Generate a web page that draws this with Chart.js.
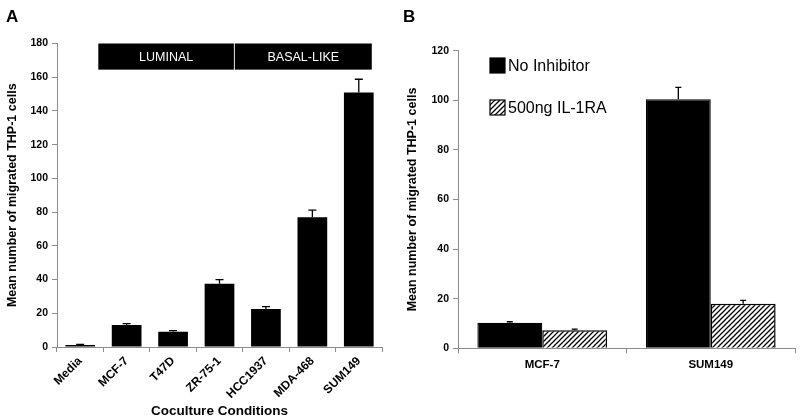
<!DOCTYPE html>
<html>
<head>
<meta charset="utf-8">
<script src="https://cdn.jsdelivr.net/npm/chart.js@4/dist/chart.umd.min.js"></script>
<style>
  html, body { margin: 0; padding: 0; background: #fff; }
  #wrap { position: relative; width: 800px; height: 420px; overflow: hidden; }
  .panel { position: absolute; top: 0; width: 400px; height: 420px; }
  .letter { position: absolute; font: bold 17px "Liberation Sans", Arial, sans-serif; line-height: 1; color: #000; }
</style>
</head>
<body>
<div id="wrap">
  <div class="panel" style="left:0"><canvas id="chartA" width="400" height="420"></canvas></div>
  <div class="panel" style="left:400px"><canvas id="chartB" width="400" height="420"></canvas></div>
  <div class="letter" style="left:6px;top:8px">A</div>
  <div class="letter" style="left:403px;top:8px">B</div>
</div>
<script>
// ---------------- DATA ----------------
const categoriesA = ['Media', 'MCF-7', 'T47D', 'ZR-75-1', 'HCC1937', 'MDA-468', 'SUM149'];
const meansA = [1.2, 13, 9, 37.5, 22.5, 77, 151];
const errorsA = [0.3, 0.9, 0.7, 2.5, 1.5, 4.2, 7.8];
const groupLabelsA = ['LUMINAL', 'BASAL-LIKE'];
const yTicksA = { min: 0, max: 180, step: 20 };

const categoriesB = ['MCF-7', 'SUM149'];
const noInhibitor = [10.3, 100.4];
const noInhibitorErr = [0.4, 4.8];
const il1ra = [7.3, 18];
const il1raErr = [0.4, 1.3];
const seriesNamesB = ['No Inhibitor', '500ng IL-1RA'];
const yTicksB = { min: 0, max: 120, step: 20 };

const yTitle = 'Mean number of migrated THP-1 cells';
const xTitleA = 'Coculture Conditions';

// ---------------- STYLE ----------------
const FONT = '"Liberation Sans", Arial, sans-serif';
const AXIS_COLOR = '#8c8c8c';
Chart.defaults.font.family = FONT;
Chart.defaults.color = '#000';
Chart.defaults.animation = false;

function makeHatch() {
  const s = 5;
  const c = document.createElement('canvas');
  c.width = s; c.height = s;
  const g = c.getContext('2d');
  g.fillStyle = '#fff'; g.fillRect(0, 0, s, s);
  g.strokeStyle = '#000'; g.lineWidth = 1.3;
  g.beginPath();
  g.moveTo(-1, s + 1); g.lineTo(s + 1, -1);
  g.moveTo(-1, 1); g.lineTo(1, -1);
  g.moveTo(s - 1, s + 1); g.lineTo(s + 1, s - 1);
  g.stroke();
  return document.getElementById('chartB').getContext('2d').createPattern(c, 'repeat');
}
const hatch = makeHatch();

// error bars (upper half only, like the reference)
const errorBarPlugin = {
  id: 'errorBars',
  afterDatasetsDraw(chart, args, opts) {
    const ctx = chart.ctx;
    const y = chart.scales.y;
    ctx.save();
    ctx.strokeStyle = '#000';
    ctx.lineWidth = 1.3;
    chart.data.datasets.forEach((ds, di) => {
      if (!ds.errors) return;
      const meta = chart.getDatasetMeta(di);
      meta.data.forEach((bar, i) => {
        const v = ds.data[i], e = ds.errors[i];
        const top = y.getPixelForValue(v + e);
        const base = y.getPixelForValue(v);
        const x = bar.x;
        ctx.beginPath();
        ctx.moveTo(x, base); ctx.lineTo(x, top);
        ctx.moveTo(x - opts.cap, top); ctx.lineTo(x + opts.cap, top);
        ctx.stroke();
      });
    });
    ctx.restore();
  }
};

// group header boxes for panel A
const groupHeaderPlugin = {
  id: 'groupHeader',
  afterDraw(chart, args, opts) {
    const ctx = chart.ctx;
    const area = chart.chartArea;
    const y = chart.scales.y;
    const n = chart.data.labels.length;
    const cw = (area.right - area.left) / n;
    ctx.save();
    opts.groups.forEach(g => {
      const x0 = area.left + g.from * cw;
      const x1 = area.left + g.to * cw;
      const y0 = y.getPixelForValue(opts.top);
      const y1 = y.getPixelForValue(opts.bottom);
      ctx.fillStyle = '#000';
      ctx.fillRect(x0, y0, x1 - x0, y1 - y0);
      ctx.fillStyle = '#fff';
      ctx.font = '12.5px ' + FONT;
      ctx.textAlign = 'center';
      ctx.textBaseline = 'middle';
      ctx.fillText(g.label, (x0 + x1) / 2, (y0 + y1) / 2 + 1);
    });
    ctx.restore();
  }
};

// in-plot legend for panel B
const boxLegendPlugin = {
  id: 'boxLegend',
  afterDraw(chart, args, opts) {
    const ctx = chart.ctx;
    ctx.save();
    chart.data.datasets.forEach((ds, i) => {
      const bx = opts.x, by = opts.y + i * opts.gap;
      ctx.fillStyle = ds.backgroundColor;
      ctx.fillRect(bx, by, opts.size, opts.size);
      ctx.strokeStyle = '#000';
      ctx.lineWidth = 1.2;
      ctx.strokeRect(bx, by, opts.size, opts.size);
      ctx.fillStyle = '#000';
      ctx.font = '16px ' + FONT;
      ctx.textAlign = 'left';
      ctx.textBaseline = 'middle';
      ctx.fillText(ds.label, bx + opts.size + 3, by + opts.size / 2 + 1);
    });
    ctx.restore();
  }
};

function fixedLayout(left, bottom, canvasH) {
  return {
    yFit: s => { s.width = left; },
    xFit: s => { s.height = canvasH - bottom; }
  };
}

// ---------------- PANEL A ----------------
const fitA = fixedLayout(57, 347, 420);
new Chart(document.getElementById('chartA'), {
  type: 'bar',
  data: {
    labels: categoriesA,
    datasets: [{
      label: 'Mean',
      data: meansA,
      errors: errorsA,
      backgroundColor: '#000',
      borderWidth: 0,
      categoryPercentage: 1.0,
      barPercentage: 0.64
    }]
  },
  options: {
    responsive: false,
    layout: { padding: { top: 43.5, right: 18, left: 0, bottom: 0 } },
    plugins: {
      legend: { display: false },
      tooltip: { enabled: false },
      errorBars: { cap: 4 },
      groupHeader: {
        top: 180, bottom: 164.5,
        groups: [
          { label: groupLabelsA[0], from: 0.89, to: 3.81 },
          { label: groupLabelsA[1], from: 3.83, to: 6.78 }
        ]
      }
    },
    scales: {
      x: {
        afterFit: fitA.xFit,
        grid: { display: true, drawOnChartArea: false, offset: true, color: AXIS_COLOR, tickLength: 5 },
        border: { color: AXIS_COLOR, width: 1 },
        ticks: { minRotation: 45, maxRotation: 45, padding: 2, font: { size: 12, weight: 'bold' }, color: '#000' },
        title: { display: true, text: xTitleA, font: { size: 13.5, weight: 'bold' }, padding: { top: 0, bottom: 1 }, color: '#000' }
      },
      y: {
        afterFit: fitA.yFit,
        min: yTicksA.min, max: yTicksA.max,
        grid: { display: true, drawOnChartArea: false, color: AXIS_COLOR, tickLength: 5 },
        border: { color: AXIS_COLOR, width: 1 },
        ticks: { stepSize: yTicksA.step, padding: 4, font: { size: 10.5, weight: 'bold' }, color: '#000' },
        title: { display: true, text: yTitle, font: { size: 12.5, weight: 'bold' }, padding: { top: 5, bottom: 0 }, color: '#000' }
      }
    }
  },
  plugins: [errorBarPlugin, groupHeaderPlugin]
});

// ---------------- PANEL B ----------------
const fitB = fixedLayout(58, 348.3, 420);
new Chart(document.getElementById('chartB'), {
  type: 'bar',
  data: {
    labels: categoriesB,
    datasets: [
      {
        label: seriesNamesB[0],
        data: noInhibitor,
        errors: noInhibitorErr,
        backgroundColor: '#000',
        borderColor: '#000',
        borderWidth: 1.2,
        categoryPercentage: 0.77,
        barPercentage: 1.0
      },
      {
        label: seriesNamesB[1],
        data: il1ra,
        errors: il1raErr,
        backgroundColor: hatch,
        borderColor: '#000',
        borderWidth: 1.5,
        categoryPercentage: 0.77,
        barPercentage: 1.0
      }
    ]
  },
  options: {
    responsive: false,
    layout: { padding: { top: 50.7, right: 5, left: 0, bottom: 0 } },
    plugins: {
      legend: { display: false },
      tooltip: { enabled: false },
      errorBars: { cap: 3 },
      boxLegend: { x: 90, y: 58, gap: 42, size: 15 }
    },
    scales: {
      x: {
        afterFit: fitB.xFit,
        grid: { display: true, drawOnChartArea: false, offset: true, color: AXIS_COLOR, tickLength: 5 },
        border: { color: AXIS_COLOR, width: 1 },
        ticks: { padding: 5, font: { size: 11.5, weight: 'bold' }, color: '#000' }
      },
      y: {
        afterFit: fitB.yFit,
        min: yTicksB.min, max: yTicksB.max,
        grid: { display: true, drawOnChartArea: false, color: AXIS_COLOR, tickLength: 5 },
        border: { color: AXIS_COLOR, width: 1 },
        ticks: { stepSize: yTicksB.step, padding: 4, font: { size: 10.5, weight: 'bold' }, color: '#000' },
        title: { display: true, text: yTitle, font: { size: 12.5, weight: 'bold' }, padding: { top: 5, bottom: 0 }, color: '#000' }
      }
    }
  },
  plugins: [errorBarPlugin, boxLegendPlugin]
});
</script>
</body>
</html>
